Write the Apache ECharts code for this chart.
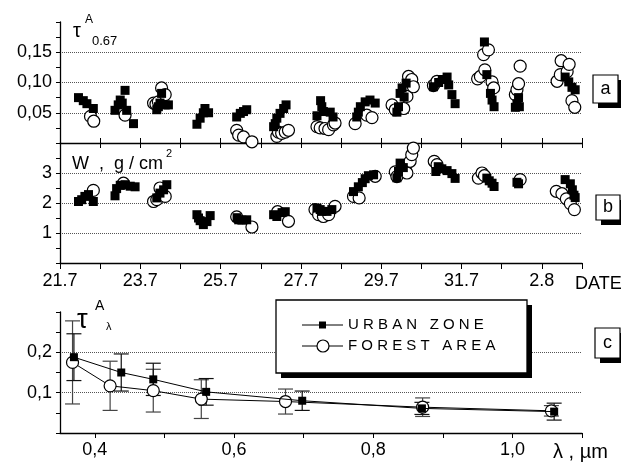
<!DOCTYPE html>
<html>
<head>
<meta charset="utf-8">
<script src="https://cdn.jsdelivr.net/npm/echarts@6/dist/echarts.min.js"></script>
<style>
html, body { margin: 0; padding: 0; background: #fff; }
#chart { width: 621px; height: 464px; }
</style>
</head>
<body>
<div id="chart"></div>
<script>
// Date tick labels (every second day, starting at 21 July)
const dateLabels = ['21.7', '23.7', '25.7', '27.7', '29.7', '31.7', '2.8'];

// Panel a: aerosol optical depth at 0.67 µm, [days since 21.7, tau]
const urbanTau = [
  [0.46, 0.075], [0.58, 0.070], [0.67, 0.065], [0.83, 0.057],
  [1.37, 0.054], [1.45, 0.063], [1.50, 0.071], [1.55, 0.066], [1.62, 0.087], [1.66, 0.054], [1.83, 0.032],
  [2.41, 0.055], [2.45, 0.060], [2.49, 0.066], [2.53, 0.082], [2.62, 0.063], [2.70, 0.063],
  [3.41, 0.031], [3.49, 0.041], [3.57, 0.050], [3.61, 0.057], [3.70, 0.050],
  [4.40, 0.043], [4.49, 0.049], [4.57, 0.052], [4.65, 0.055],
  [5.32, 0.027], [5.36, 0.032], [5.40, 0.041], [5.48, 0.049], [5.57, 0.057], [5.63, 0.063],
  [6.40, 0.045], [6.49, 0.070], [6.52, 0.060], [6.56, 0.052], [6.73, 0.051], [6.80, 0.043],
  [7.39, 0.043], [7.43, 0.051], [7.48, 0.060], [7.60, 0.068], [7.72, 0.071], [7.85, 0.066],
  [8.39, 0.051], [8.43, 0.060], [8.47, 0.082], [8.52, 0.091], [8.57, 0.076], [8.62, 0.099],
  [9.30, 0.093], [9.43, 0.100], [9.52, 0.105], [9.64, 0.109], [9.68, 0.096], [9.76, 0.080], [9.84, 0.065],
  [10.57, 0.167], [10.63, 0.113], [10.72, 0.082], [10.76, 0.071], [10.81, 0.060],
  [11.34, 0.059], [11.38, 0.065], [11.42, 0.075], [11.44, 0.060],
  [12.58, 0.109], [12.67, 0.101], [12.75, 0.092], [12.83, 0.088]
];
const forestTau = [
  [0.76, 0.044], [0.84, 0.036],
  [1.62, 0.046],
  [2.33, 0.066], [2.39, 0.064], [2.45, 0.068], [2.53, 0.091], [2.62, 0.080],
  [4.40, 0.021], [4.45, 0.013], [4.57, 0.010], [4.78, 0.002],
  [5.40, 0.011], [5.44, 0.018], [5.52, 0.016], [5.61, 0.018], [5.69, 0.021],
  [6.40, 0.027], [6.48, 0.025], [6.60, 0.024], [6.69, 0.022], [6.81, 0.030], [6.85, 0.033],
  [7.35, 0.032], [7.64, 0.046], [7.77, 0.042],
  [8.27, 0.063], [8.35, 0.055], [8.56, 0.057], [8.64, 0.077], [8.68, 0.110], [8.76, 0.105], [8.80, 0.093],
  [9.30, 0.095], [9.39, 0.102],
  [10.40, 0.106], [10.47, 0.110], [10.55, 0.146], [10.58, 0.121], [10.67, 0.154], [10.76, 0.101], [10.80, 0.091],
  [11.34, 0.080], [11.38, 0.088], [11.42, 0.098], [11.46, 0.127],
  [12.38, 0.102], [12.46, 0.113], [12.48, 0.136], [12.63, 0.118], [12.68, 0.130], [12.75, 0.070], [12.82, 0.059]
];

// Panel b: precipitable water, g/cm², [days since 21.7, W]
const urbanW = [
  [0.46, 2.05], [0.54, 2.11], [0.62, 2.22], [0.71, 2.28], [0.83, 2.05],
  [1.37, 2.24], [1.41, 2.48], [1.50, 2.59], [1.62, 2.61], [1.75, 2.56], [1.87, 2.54],
  [2.41, 2.17], [2.49, 2.33], [2.58, 2.44], [2.66, 2.61],
  [3.41, 1.61], [3.45, 1.50], [3.49, 1.41], [3.57, 1.28], [3.66, 1.38], [3.74, 1.58],
  [4.41, 1.51], [4.45, 1.44], [4.53, 1.43], [4.65, 1.44],
  [5.32, 1.61], [5.40, 1.55], [5.53, 1.68], [5.61, 1.71],
  [6.40, 1.83], [6.48, 1.78], [6.52, 1.72], [6.65, 1.72], [6.77, 1.78],
  [7.31, 2.38], [7.43, 2.54], [7.53, 2.68], [7.60, 2.81], [7.68, 2.91], [7.81, 2.94],
  [8.39, 2.84], [8.43, 3.05], [8.47, 3.33], [8.55, 3.18],
  [9.36, 3.05], [9.42, 3.21], [9.51, 3.14], [9.64, 3.08], [9.76, 2.98], [9.84, 2.82],
  [10.63, 2.83], [10.69, 2.74], [10.76, 2.66], [10.81, 2.55],
  [11.38, 2.69], [11.42, 2.64],
  [12.58, 2.78], [12.71, 2.64], [12.76, 2.44], [12.80, 2.26], [12.83, 2.18]
];
const forestW = [
  [0.83, 2.42],
  [1.58, 2.66],
  [2.33, 2.05], [2.41, 2.11], [2.49, 2.50], [2.62, 2.22],
  [4.40, 1.54], [4.78, 1.20],
  [5.42, 1.71], [5.69, 1.39],
  [6.35, 1.78], [6.44, 1.61], [6.56, 1.55], [6.69, 1.61], [6.85, 1.89],
  [7.31, 2.22], [7.45, 2.17], [7.85, 2.89],
  [8.35, 3.04], [8.39, 2.88], [8.60, 3.22], [8.64, 3.00], [8.72, 3.39], [8.76, 3.61], [8.80, 3.83],
  [9.32, 3.39], [9.39, 3.28],
  [10.42, 2.83], [10.51, 3.00], [10.57, 2.91],
  [11.46, 2.78],
  [12.36, 2.39], [12.50, 2.31], [12.61, 2.14], [12.71, 1.98], [12.81, 1.78]
];

// Panel c: mean spectral optical depth with standard deviation
const urbanLambda = [0.370, 0.438, 0.484, 0.560, 0.698, 0.870, 1.060];
const urbanSpec   = [0.188, 0.150, 0.133, 0.102, 0.080, 0.061, 0.053];
const urbanErr    = [0.058, 0.046, 0.040, 0.033, 0.024, 0.015, 0.021];
const forestLambda = [0.368, 0.422, 0.484, 0.553, 0.674, 0.871, 1.056];
const forestSpec   = [0.175, 0.117, 0.105, 0.084, 0.078, 0.064, 0.055];
const forestErr    = [0.103, 0.061, 0.053, 0.048, 0.031, 0.023, 0.013];

const lambdaTicks  = [0.4, 0.5, 0.6, 0.7, 0.8, 0.9, 1.0, 1.1];
const lambdaLabels = [0.4, 0.6, 0.8, 1.0];

const FONT = "'Liberation Sans', Arial, Helvetica, sans-serif";
const BLACK = '#000';

const comma = (v, d) => v.toFixed(d).replace('.', ',');

function yAxisBase(grid, min, max, interval, fmt) {
  return {
    type: 'value', gridIndex: grid, min: min, max: max, interval: interval,
    axisLine: { show: true, onZero: false, lineStyle: { color: BLACK, width: 1.3 } },
    axisTick: { show: true, length: 4, lineStyle: { color: BLACK, width: 1 } },
    minorTick: { show: true, splitNumber: 2, length: 4, lineStyle: { color: BLACK, width: 1 } },
    splitLine: { show: true, showMinLine: false, showMaxLine: false,
                 lineStyle: { color: '#555', width: 1, type: [1, 1] } },
    axisLabel: { color: BLACK, fontFamily: FONT, fontSize: 18, margin: 8, formatter: fmt }
  };
}

function dateAxis(grid, position, opts) {
  return Object.assign({
    type: 'value', gridIndex: grid, min: 0, max: 13, interval: 1, position: position,
    axisLine: { show: true, onZero: false, lineStyle: { color: BLACK, width: 1.3 } },
    axisTick: { show: true, inside: true, length: 5, lineStyle: { color: BLACK, width: 1 } },
    splitLine: { show: false },
    axisLabel: { show: false }
  }, opts);
}

// Vertical error bar with caps
function errorBarRenderer(color) {
  return function (params, api) {
    const x = api.value(0);
    const top = api.coord([x, api.value(2)]);
    const bot = api.coord([x, api.value(1)]);
    const hw = 7.5;
    const st = { stroke: color, lineWidth: 1.2 };
    return {
      type: 'group',
      children: [
        { type: 'line', shape: { x1: top[0], y1: top[1], x2: bot[0], y2: bot[1] }, style: st },
        { type: 'line', shape: { x1: top[0] - hw, y1: top[1], x2: top[0] + hw, y2: top[1] }, style: st },
        { type: 'line', shape: { x1: bot[0] - hw, y1: bot[1], x2: bot[0] + hw, y2: bot[1] }, style: st }
      ]
    };
  };
}

const squareStyle = { color: BLACK, opacity: 1 };
const circleStyle = { color: '#fff', borderColor: BLACK, borderWidth: 1.2, opacity: 1 };

const txt = (x, y, text, size, align, extra) => Object.assign({
  type: 'text', x: x, y: y, silent: true,
  style: { text: text, fontFamily: FONT, fontSize: size, fill: BLACK,
           textAlign: align || 'left', textVerticalAlign: 'middle',
           align: align || 'left', verticalAlign: 'middle' }
}, extra || {});

function tagBox(x, y, w, h, letter) {
  return [
    { type: 'rect', shape: { x: x + 5, y: y + 5, width: w, height: h }, style: { fill: BLACK }, silent: true },
    { type: 'rect', shape: { x: x, y: y, width: w, height: h }, style: { fill: '#fff', stroke: BLACK, lineWidth: 1.2 }, silent: true },
    txt(x + w / 2, y + h / 2, letter, 18, 'center')
  ];
}

const chart = echarts.init(document.getElementById('chart'), null, { renderer: 'canvas' });

chart.setOption({
  animation: false,
  backgroundColor: '#fff',
  grid: [
    { left: 60, top: 22, width: 522, height: 121 },
    { left: 60, top: 143, width: 522, height: 120 },
    { left: 60, top: 312, width: 522, height: 121 }
  ],
  xAxis: [
    dateAxis(0, 'bottom'),
    dateAxis(1, 'bottom', {
      axisTick: { show: true, inside: false, length: 6, lineStyle: { color: BLACK, width: 1 } },
      axisLabel: {
        show: true, color: BLACK, fontFamily: FONT, fontSize: 18, margin: 9,
        customValues: dateLabels.map((_, i) => i * 2),
        formatter: v => dateLabels[Math.round(v / 2)]
      }
    }),
    dateAxis(1, 'top', { axisLine: { show: false, onZero: false } }),
    {
      type: 'value', gridIndex: 2, min: 0.35, max: 1.1,
      axisLine: { show: true, onZero: false, lineStyle: { color: BLACK, width: 1.3 } },
      axisTick: { show: true, length: 5, customValues: lambdaTicks, lineStyle: { color: BLACK, width: 1 } },
      splitLine: { show: false },
      axisLabel: { color: BLACK, fontFamily: FONT, fontSize: 18, margin: 8,
                   customValues: lambdaLabels, formatter: v => comma(v, 1) }
    }
  ],
  yAxis: [
    yAxisBase(0, 0, 0.2, 0.05, v => (v > 0.001 && v < 0.199) ? comma(v, 2) : ''),
    yAxisBase(1, 0, 4, 1, v => (v > 0 && v < 4) ? String(v) : ''),
    yAxisBase(2, 0, 0.3, 0.1, v => (v > 0.001 && v < 0.299) ? comma(v, 1) : '')
  ],
  series: [
    { name: 'FOREST AREA', type: 'scatter', xAxisIndex: 0, yAxisIndex: 0, data: forestTau,
      symbol: 'circle', symbolSize: 12, itemStyle: circleStyle, z: 2, silent: true },
    { name: 'URBAN ZONE', type: 'scatter', xAxisIndex: 0, yAxisIndex: 0, data: urbanTau,
      symbol: 'rect', symbolSize: 9, itemStyle: squareStyle, z: 3, silent: true },
    { name: 'FOREST AREA', type: 'scatter', xAxisIndex: 1, yAxisIndex: 1, data: forestW,
      symbol: 'circle', symbolSize: 12, itemStyle: circleStyle, z: 2, silent: true },
    { name: 'URBAN ZONE', type: 'scatter', xAxisIndex: 1, yAxisIndex: 1, data: urbanW,
      symbol: 'rect', symbolSize: 9, itemStyle: squareStyle, z: 3, silent: true },
    { type: 'custom', xAxisIndex: 3, yAxisIndex: 2, silent: true, z: 1,
      renderItem: errorBarRenderer('#444'), encode: { x: 0, y: [1, 2] },
      data: forestLambda.map((x, i) => [x, forestSpec[i] - forestErr[i], forestSpec[i] + forestErr[i]]) },
    { type: 'custom', xAxisIndex: 3, yAxisIndex: 2, silent: true, z: 1,
      renderItem: errorBarRenderer('#111'), encode: { x: 0, y: [1, 2] },
      data: urbanLambda.map((x, i) => [x, urbanSpec[i] - urbanErr[i], urbanSpec[i] + urbanErr[i]]) },
    { name: 'FOREST AREA', type: 'line', xAxisIndex: 3, yAxisIndex: 2,
      data: forestLambda.map((x, i) => [x, forestSpec[i]]),
      symbol: 'circle', symbolSize: 12, showSymbol: true, itemStyle: circleStyle,
      lineStyle: { color: BLACK, width: 1 }, z: 3, silent: true },
    { name: 'URBAN ZONE', type: 'line', xAxisIndex: 3, yAxisIndex: 2,
      data: urbanLambda.map((x, i) => [x, urbanSpec[i]]),
      symbol: 'rect', symbolSize: 8, showSymbol: true, itemStyle: squareStyle,
      lineStyle: { color: BLACK, width: 1 }, z: 4, silent: true }
  ],
  graphic: [
    // panel a title
    txt(73, 31, 'τ', 20),
    txt(85, 20, 'A', 12),
    txt(92, 41, '0.67', 13),
    // panel b title
    txt(72, 164, 'W  ,  g / cm', 18),
    txt(166, 154, '2', 11),
    // panel c title
    txt(77, 321, 'τ', 27),
    txt(95, 306, 'A', 14),
    txt(106, 327, 'λ', 11),
    // axis names
    txt(575, 284, 'DATE', 18),
    txt(553, 452, 'λ , µm', 20),
    // legend box
    { type: 'rect', shape: { x: 281, y: 305, width: 251, height: 73 }, style: { fill: BLACK }, silent: true, z: 10 },
    { type: 'rect', shape: { x: 276, y: 300, width: 251, height: 73 }, style: { fill: '#fff', stroke: BLACK, lineWidth: 1.3 }, silent: true, z: 11 },
    { type: 'line', shape: { x1: 302, y1: 325, x2: 343, y2: 325 }, style: { stroke: BLACK, lineWidth: 1 }, z: 12 },
    { type: 'rect', shape: { x: 319, y: 321.5, width: 7, height: 7 }, style: { fill: BLACK }, z: 13 },
    { type: 'line', shape: { x1: 302, y1: 346, x2: 343, y2: 346 }, style: { stroke: BLACK, lineWidth: 1 }, z: 12 },
    { type: 'circle', shape: { cx: 323, cy: 346, r: 6 }, style: { fill: '#fff', stroke: BLACK, lineWidth: 1.2 }, z: 13 },
    txt(348, 325, 'U R B A N   Z O N E', 15, 'left', { z: 13 }),
    txt(348, 346, 'F O R E S T   A R E A', 15, 'left', { z: 13 })
  ].concat(tagBox(593, 75, 25, 28, 'a'), tagBox(596, 195, 24, 25, 'b'), tagBox(595, 328, 25, 30, 'c'))
});
</script>
</body>
</html>
